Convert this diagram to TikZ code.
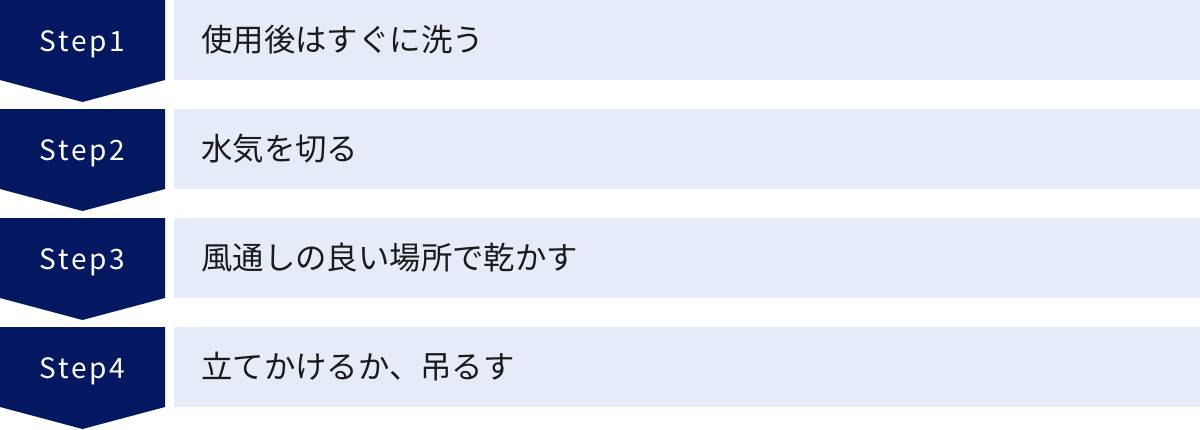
\documentclass[tikz,border=0pt]{standalone}
\usepackage{fontspec}
\usepackage{tikz}
\setmainfont{Noto Sans CJK JP}
\newfontfamily\stepfont[LetterSpace=10]{Noto Sans CJK JP}
\definecolor{mnavy}{HTML}{041862}
\definecolor{mpale}{HTML}{E6EBF8}
\definecolor{mink}{HTML}{1A1A1A}
\tikzset{stepmark/.style = {fill=mnavy},
         stepbar/.style  = {fill=mpale},
         steplabel/.style = {text=white, inner sep=0pt,
                             font=\stepfont\fontsize{28}{28}\selectfont},
         steptext/.style = {text=mink, inner sep=0pt, anchor=west,
                            font=\fontsize{31.4}{31.4}\selectfont}}

\begin{document}
\begin{tikzpicture}[x=1pt, y=-1pt]
    \useasboundingbox (0, 0) rectangle (1200, 429);
    \foreach \i/\task in {1/使用後はすぐに洗う, 2/水気を切る,
                          3/風通しの良い場所で乾かす, 4/立てかけるか、吊るす} {
      \pgfmathsetmacro{\top}{109 * (\i - 1)}
      \fill [stepmark] (0, \top) -- (165, \top) -- (165, \top + 80)
                       -- (82.5, \top + 102) -- (0, \top + 80) -- cycle;
      \fill [stepbar] (174, \top) rectangle (1200, \top + 80);
      \node [steplabel] (step\i) at (82.5, \top + 44) {Step\i};
      \node [steptext] (task\i) at (201, \top + 40) {\task};
    }
  \end{tikzpicture}
\end{document}
